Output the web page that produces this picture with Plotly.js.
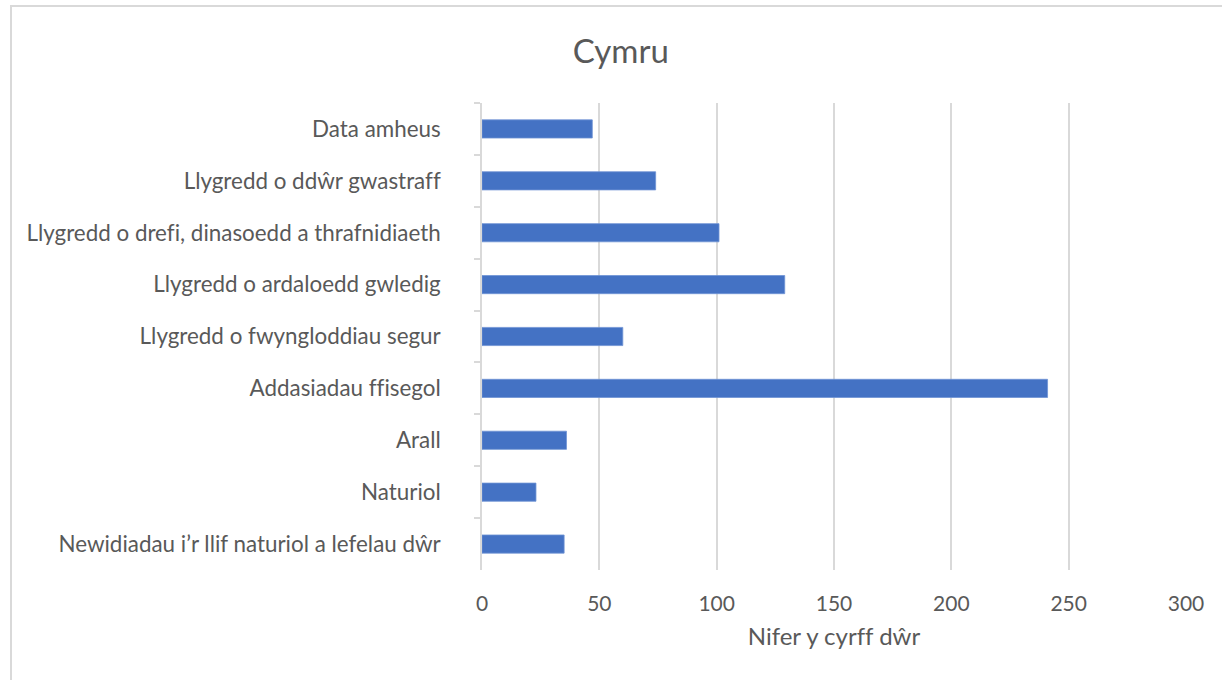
<!DOCTYPE html>
<html>
<head>
<meta charset="utf-8">
<script src="https://cdn.plot.ly/plotly-3.0.1.min.js"></script>
<style>
  html, body { margin: 0; padding: 0; background: #fff; overflow: hidden; }
  #frame { position: absolute; left: 10px; top: 5px; width: 1300px; height: 800px;
           border-left: 2px solid #d9d9d9; border-top: 2px solid #d9d9d9; }
  #chart { position: absolute; left: 0; top: 0; width: 1222px; height: 680px; }
  #chart, #chart * { font-variant-ligatures: none !important; font-feature-settings: "liga" 0, "clig" 0 !important; }
</style>
</head>
<body>
<div id="frame"></div>
<div id="chart"></div>
<script>
const categories = [
  "Data amheus",
  "Llygredd o ddŵr gwastraff",
  "Llygredd o drefi, dinasoedd a thrafnidiaeth",
  "Llygredd o ardaloedd gwledig",
  "Llygredd o fwyngloddiau segur",
  "Addasiadau ffisegol",
  "Arall",
  "Naturiol",
  "Newidiadau i’r llif naturiol a lefelau dŵr"
];
const values = [47, 74, 101, 129, 60, 241, 36, 23, 35];
const xTicks = [0, 50, 100, 150, 200, 250, 300];
const chartTitle = "Cymru";
const xTitle = "Nifer y cyrff dŵr";

const font = "Lato, 'Open Sans', sans-serif";
const grey = "#595959";

const trace = {
  type: "bar",
  orientation: "h",
  y: categories,
  x: values,
  marker: { color: "#4472C4", line: { color: "#6f93d4", width: 0.8 } },
  hoverinfo: "x+y"
};

const layout = {
  width: 1222,
  height: 680,
  paper_bgcolor: "rgba(0,0,0,0)",
  plot_bgcolor: "rgba(0,0,0,0)",
  margin: { l: 482, r: 36, t: 103, b: 110 },
  showlegend: false,
  bargap: 0.65,
  title: { text: chartTitle, x: 0.508, xanchor: "center", y: 0.925, yanchor: "middle",
           font: { family: font, size: 33, color: grey } },
  xaxis: {
    range: [0, 300],
    tickvals: xTicks,
    ticktext: xTicks.map(String),
    showgrid: true,
    gridcolor: "#d9d9d9",
    gridwidth: 1.5,
    zeroline: false,
    showline: false,
    ticks: "",
    ticklabelstandoff: 19,
    tickfont: { family: font, size: 21, color: grey },
    title: { text: xTitle, standoff: 14, font: { family: font, size: 24, color: grey } }
  },
  yaxis: {
    type: "category",
    autorange: "reversed",
    showgrid: false,
    zeroline: false,
    showline: true,
    linecolor: "#d9d9d9",
    linewidth: 1.5,
    ticks: "outside",
    tickson: "boundaries",
    ticklen: 6,
    tickcolor: "#d9d9d9",
    tickwidth: 1.5,
    ticklabelstandoff: 35,
    tickfont: { family: font, size: 22.4, color: grey }
  }
};

Plotly.newPlot("chart", [trace], layout, { displayModeBar: false });
</script>
</body>
</html>
